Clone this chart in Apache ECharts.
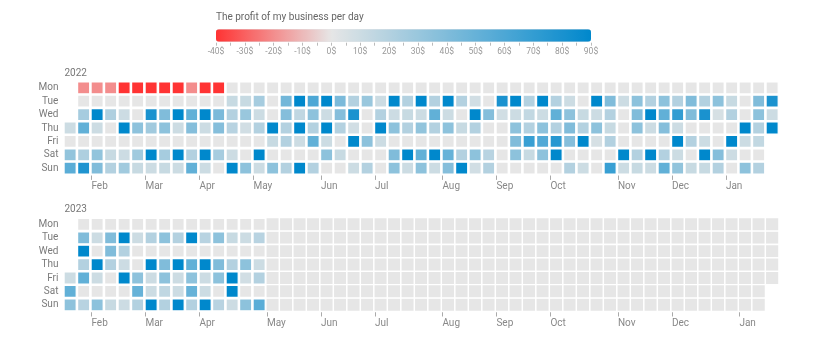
<!DOCTYPE html>
<html>
<head>
<meta charset="utf-8">
<script src="https://cdn.jsdelivr.net/npm/echarts@6/dist/echarts.min.js"></script>
<style>html,body{margin:0;padding:0;background:#fff}#c{width:821px;height:359px}</style>
</head>
<body>
<div id="c"></div>
<script>
// ---------- data ----------
const chartTitle = 'The profit of my business per day';
const years = ['2022', '2023'];
const dayNames = ['Mon', 'Tue', 'Wed', 'Thu', 'Fri', 'Sat', 'Sun'];
const monthNames = ['Feb', 'Mar', 'Apr', 'May', 'Jun', 'Jul', 'Aug', 'Sep', 'Oct', 'Nov', 'Dec', 'Jan'];
const monthWeeks2022 = [2, 6, 10, 14, 19, 23, 28, 32, 36, 41, 45, 49];
const monthWeeks2023 = [2, 6, 10, 15, 19, 23, 28, 32, 36, 41, 45, 50];
const legendMin = -40;
const legendMax = 90;
const legendStep = 5;

// one array per weekday row, one value per week column (null = no cell)
const mon2022 = [null,-20,-20,-20,-40,-40,-40,-40,-40,-20, -40,-40,0,0,0,0,0,0,0,0, 0,0,0,0,0,0,0,0,0,0, 0,0,0,0,0,0,0,0,0,0, 0,0,0,0,0,0,0,0,0,0, 0,0,0];
const tue2022 = [null,0,0,0,0,0,0,0,0,0, 0,0,12,12,25,0,45,90,60,90, 42,20,30,10,90,20,90,20,90,20, 8,0,80,90,20,90,20,10,0,90, 40,10,35,20,35,20,40,20,35,12, 0,40,80];
const wed2022 = [null,25,90,22,10,0,80,40,90,52, 90,42,20,30,10,0,38,15,35,10, 38,80,0,20,10,12,10,52,10,0, 90,38,8,10,14,10,52,35,12,10, 20,0,40,90,52,70,40,80,6,20, 0,35,10];
const thu2022 = [10,52,10,0,90,35,27,35,10,38, 10,38,18,8,20,90,20,90,20,90, 20,8,0,90,35,20,33,20,35,12, 20,0,0,35,20,35,20,40,20,35, 12,0,35,10,38,10,0,0,0,0, 90,20,90];
const fri2022 = [0,0,0,0,0,0,0,0,0,0, 0,0,0,0,0,12,20,10,52,10, 0,90,35,10,0,0,0,0,0,0, 0,0,0,40,68,58,75,38,90,6, 20,0,0,0,0,90,20,10,0,90, 10,14,null];
const sat2022 = [33,22,33,12,10,27,90,25,90,20, 90,25,10,0,90,0,0,0,0,35, 12,0,0,0,40,90,52,90,50,20, 35,18,0,35,12,35,90,0,0,0, 0,90,20,90,20,10,0,90,38,10, 0,0,null];
const sun2022 = [55,78,40,20,27,12,10,12,10,52, 10,0,90,35,10,35,20,90,20,0, 0,10,20,0,35,10,35,10,38,90, 8,20,0,0,0,0,0,20,10,0, 68,10,12,10,52,33,12,12,20,0, 35,20,null];

const mon2023 = [null,0,0,0,0,0,0,0,0,0,0,0,0,0,0];
const tue2023 = [null,40,10,40,90,10,20,35,20,90,18,35,12,10,18];
const wed2023 = [null,90,0,40,20,0,0,0,0,0,0,0,0,0,0];
const thu2023 = [null,20,90,20,10,0,90,40,90,52,90,40,20,35,10];
const fri2023 = [10,52,10,0,90,35,10,35,10,35,10,35,90,8,20];
const sat2023 = [52,0,0,0,0,50,10,15,10,50,10,0,90,0,0];
const sun2023 = [35,18,35,12,10,20,90,20,90,20,90,18,10,35,55];

// ---------- build ----------
const rowsByYear = [
  [mon2022, tue2022, wed2022, thu2022, fri2022, sat2022, sun2022],
  [mon2023, tue2023, wed2023, thu2023, fri2023, sat2023, sun2023]
];
const monthWeeks = [monthWeeks2022, monthWeeks2023];
const FONT = 'Roboto, sans-serif';
const firstDay = 3;
const nameMap = new Array(7);
dayNames.forEach((n, i) => { nameMap[(i + firstDay) % 7] = n; });

function toSeriesData(year, rows) {
  const y = +year;
  const offset = (new Date(Date.UTC(y, 0, 1)).getUTCDay() - firstDay + 7) % 7;
  const out = [];
  rows.forEach((row, r) => row.forEach((v, c) => {
    if (v === null || v === undefined) return;
    const dt = new Date(Date.UTC(y, 0, 1 + c * 7 + r - offset));
    if (dt.getUTCFullYear() !== y) return;
    out.push([dt.toISOString().slice(0, 10), v]);
  }));
  return out;
}

function hex2rgb(h) { return [1, 3, 5].map(i => parseInt(h.slice(i, i + 2), 16)); }
function rgb2hex(c) { return '#' + c.map(v => Math.round(v).toString(16).padStart(2, '0')).join(''); }
const anchors = [[legendMin, '#ff3333'], [0, '#e6e6e6'], [legendMax, '#0088cc']];
function colorAt(v) {
  for (let i = 0; i < anchors.length - 1; i++) {
    const [v0, c0] = anchors[i], [v1, c1] = anchors[i + 1];
    if (v >= v0 && v <= v1) {
      const t = (v - v0) / (v1 - v0);
      const a = hex2rgb(c0), b = hex2rgb(c1);
      return rgb2hex(a.map((x, k) => x + (b[k] - x) * t));
    }
  }
  return anchors[anchors.length - 1][1];
}
const colorStops = [];
for (let v = legendMin; v <= legendMax; v += 10) colorStops.push(colorAt(v));

const calLeft = 63.4;
const calTops = [81.1, 217.7];
const cell = [13.5, 13.4];
const weeks = 53;

const option = {
  animation: false,
  backgroundColor: '#fff',
  title: [
    { text: chartTitle, left: 216, top: 12.5, padding: 0,
      textStyle: { fontSize: 10, color: '#666', fontWeight: 'normal', fontFamily: FONT } },
    ...years.map((y, i) => ({ text: y, left: 64.5, top: calTops[i] - 13, padding: 0,
      textStyle: { fontSize: 10, color: '#777', fontWeight: 'normal', fontFamily: FONT } }))
  ],
  visualMap: {
    type: 'continuous', min: legendMin, max: legendMax, orient: 'horizontal',
    left: 216, top: 29.3, padding: 0, itemWidth: 12.4, itemHeight: 375,
    calculable: false, hoverLink: false, seriesIndex: [0, 1],
    inRange: { color: colorStops }
  },
  calendar: years.map((y, i) => ({
    range: y, orient: 'horizontal', left: calLeft, top: calTops[i], cellSize: cell,
    splitLine: { show: false },
    itemStyle: { color: '#e6e6e6', borderColor: '#fff', borderWidth: 1.3 },
    dayLabel: { firstDay: firstDay, nameMap: nameMap, position: 'start', margin: 5,
      color: '#7a7a7a', fontSize: 10, fontFamily: FONT },
    monthLabel: { show: false },
    yearLabel: { show: false }
  })),
  grid: [
    ...years.map((y, i) => ({ left: calLeft + 1, top: calTops[i], width: weeks * cell[0],
      height: 7 * cell[1], outerBoundsMode: 'none', containLabel: false })),
    { left: 216, top: 29.3, width: 375, height: 13.4, outerBoundsMode: 'none', containLabel: false }
  ],
  xAxis: [
    ...years.map((y, i) => ({
      gridIndex: i, type: 'value', min: 0, max: weeks, position: 'bottom',
      axisLine: { show: false }, splitLine: { show: false },
      axisTick: { show: true, customValues: monthWeeks[i], length: 5, lineStyle: { color: '#aaa' } },
      axisLabel: { show: true, customValues: monthWeeks[i], align: 'left', margin: 7,
        color: '#888', fontSize: 10, fontFamily: FONT,
        formatter: v => monthNames[monthWeeks[i].indexOf(v)] || '' }
    })),
    {
      gridIndex: 2, type: 'value', min: legendMin, max: legendMax, interval: legendStep,
      position: 'bottom', axisLine: { show: false }, splitLine: { show: false },
      axisTick: { show: true, length: 3, lineStyle: { color: '#bbb' } },
      axisLabel: { show: true, margin: 5, color: '#999', fontSize: 8.5, fontFamily: FONT,
        formatter: v => (v % 10 === 0 ? v + '$' : '') }
    }
  ],
  yAxis: [0, 1, 2].map(i => ({ gridIndex: i, type: 'value', show: false, min: 0, max: 1 })),
  series: years.map((y, i) => ({
    type: 'heatmap', coordinateSystem: 'calendar', calendarIndex: i,
    data: toSeriesData(y, rowsByYear[i]),
    itemStyle: { borderColor: '#fff', borderWidth: 1.3 },
    emphasis: { disabled: true }
  }))
};

const chart = echarts.init(document.getElementById('c'));
chart.setOption(option);
</script>
</body>
</html>
